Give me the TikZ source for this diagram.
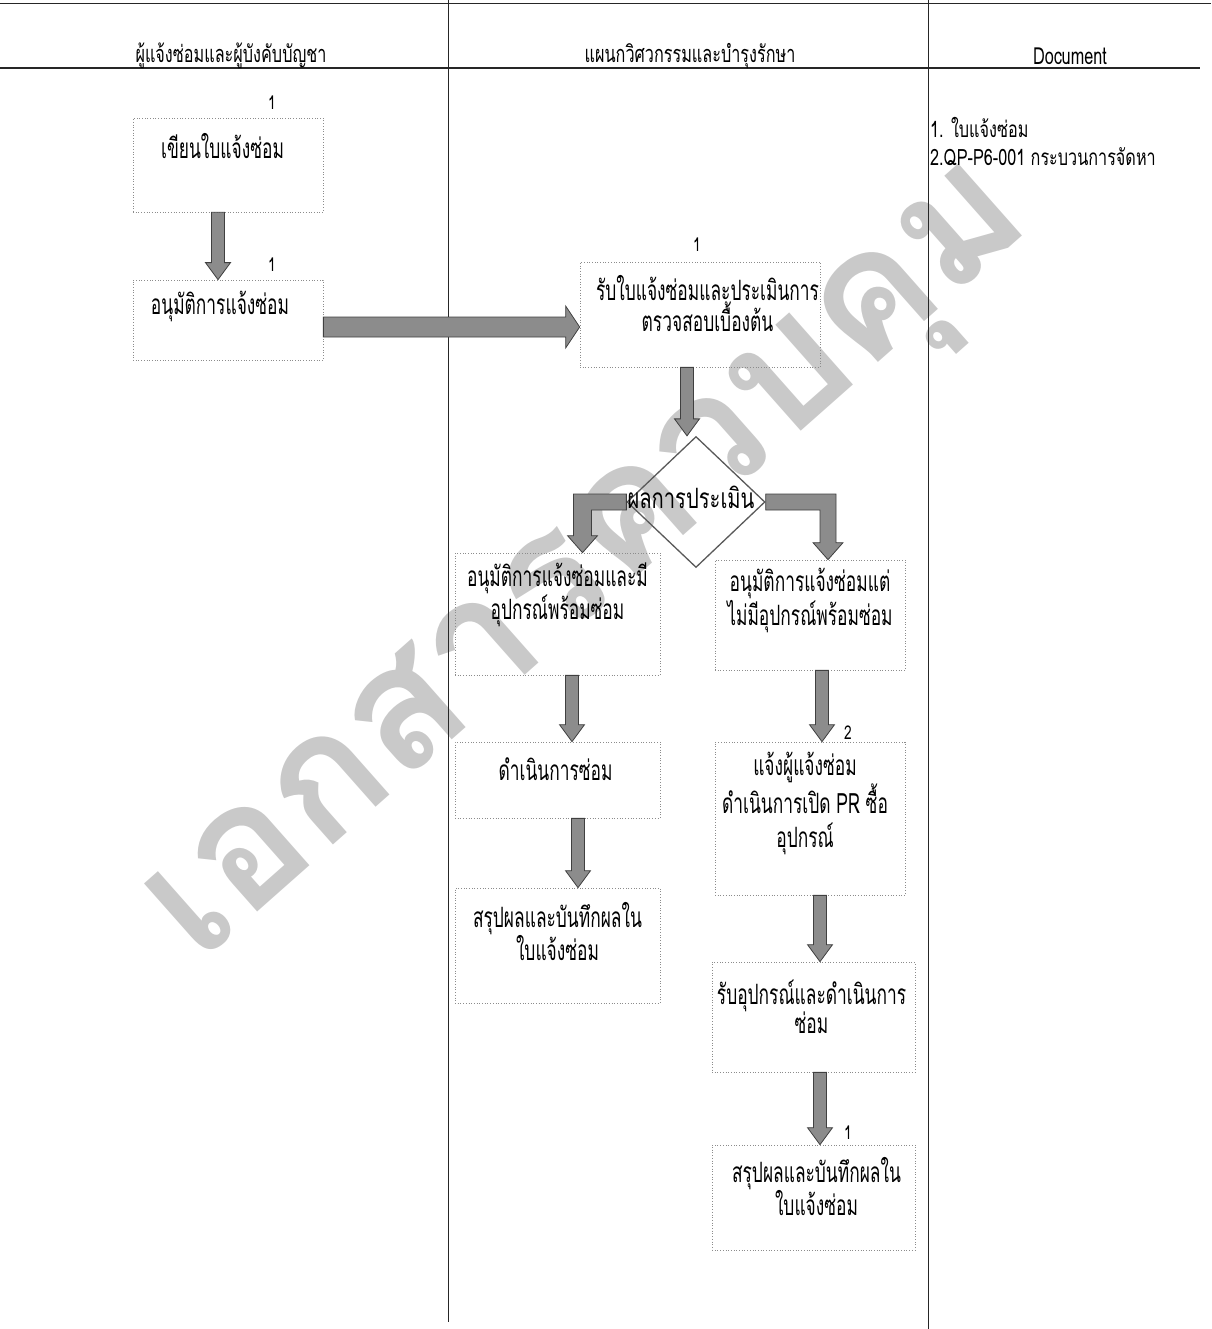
\documentclass[tikz,border=0pt]{standalone}
\usepackage{fontspec}
\setmainfont[Script=Thai, FakeStretch=0.62]{Loma}
\newfontfamily\headfont[Script=Thai, FakeStretch=0.69]{Loma}
\newfontfamily\docfont[Script=Thai, FakeStretch=0.72]{Loma}
\newfontfamily\wmfont[Script=Thai]{Loma}
\usetikzlibrary{calc,shapes.geometric}

\tikzset{
  lane/.style={draw=black!85, line width=0.9pt},
  stepbox/.style={draw=black!45, dotted, line width=0.7pt, inner sep=0pt},
  steptext/.style={anchor=center, align=center, inner sep=0pt,
    font=\fontsize{28}{29}\selectfont},
  blockarrow/.style={fill=black!45, draw=black!75, line width=0.8pt, line join=miter},
  num/.style={inner sep=0pt, font=\docfont\fontsize{19}{19}\selectfont},
  lanehead/.style={inner sep=0pt, font=\headfont\fontsize{23.5}{24}\selectfont},
  doctext/.style={anchor=west, inner sep=0pt, font=\docfont\fontsize{22.5}{23}\selectfont},
}

% vertical block arrow: #1 start point, #2 anchor giving the tip height
\newcommand\vblock[2]{%
  \coordinate (bs) at #1;
  \coordinate (be) at (bs |- #2);
  \path[blockarrow] ($(bs)+(-6.5,0)$) -- ($(be)+(-6.5,-17)$) -- ($(be)+(-12.5,-17)$)
    -- (be) -- ($(be)+(12.5,-17)$) -- ($(be)+(6.5,-17)$) -- ($(bs)+(6.5,0)$) -- cycle;}

\begin{document}
\begin{tikzpicture}[x=1pt,y=-1pt]
\useasboundingbox (0,0) rectangle (1211,1329);

% watermark
\node[rotate=41.5, text=black!21, inner sep=0pt,
  font=\wmfont\fontsize{173}{173}\selectfont\bfseries] (wm) at (598,573) {เอกสารควบคุม};

% swimlane frame
\draw[lane] (0,3) -- (1211,3);
\draw[draw=black!85, line width=1.8pt] (0,68) -- (1200,68);
\draw[lane] (448,0) -- (448,1322);
\draw[lane] (928,0) -- (928,1329);

\node[lanehead] (h1) at (231,56) {ผู้แจ้งซ่อมและผู้บังคับบัญชา};
\node[lanehead] (h2) at (690,56) {แผนกวิศวกรรมและบำรุงรักษา};
\node[lanehead] (h3) at (1070,56) {Document};

% documents
\node[doctext] (d1) at (930,127) {1. ใบแจ้งซ่อม};
\node[doctext] (d2) at (930,157) {2.QP-P6-001 กระบวนการจัดหา};

% process boxes
\node[stepbox, minimum width=190, minimum height=94]  (b1)  at (228,165) {};
\node[stepbox, minimum width=190, minimum height=80]  (b2)  at (228,320) {};
\node[stepbox, minimum width=240, minimum height=105] (b3)  at (700,314.5) {};
\node[stepbox, minimum width=205, minimum height=122] (b4)  at (557.5,614) {};
\node[stepbox, minimum width=190, minimum height=110] (b5)  at (810,615) {};
\node[stepbox, minimum width=205, minimum height=76]  (b6)  at (557.5,780) {};
\node[stepbox, minimum width=205, minimum height=115] (b7)  at (557.5,945.5) {};
\node[stepbox, minimum width=190, minimum height=153] (b8)  at (810,818.5) {};
\node[stepbox, minimum width=203, minimum height=110] (b9)  at (813.5,1017) {};
\node[stepbox, minimum width=203, minimum height=105] (b10) at (813.5,1197.5) {};

\node[steptext] (t1)  at ([xshift=-5.5pt,yshift=-28pt]b1.north)  {เขียนใบแจ้งซ่อม};
\node[steptext] (t2)  at ([xshift=-8pt,yshift=-27pt]b2.north)  {อนุมัติการแจ้งซ่อม};
\node[steptext] (t3)  at ([xshift=7.5pt,yshift=-42pt]b3.north)  {รับใบแจ้งซ่อมและประเมินการ\\ตรวจสอบเบื้องต้น};
\node[steptext] (t4)  at ([yshift=-42pt]b4.north)  {อนุมัติการแจ้งซ่อมและมี\\อุปกรณ์พร้อมซ่อม};
\node[steptext] (t5)  at ([yshift=-41pt]b5.north)  {อนุมัติการแจ้งซ่อมแต่\\ไม่มีอุปกรณ์พร้อมซ่อม};
\node[steptext] (t6)  at ([xshift=-2pt,yshift=-28pt]b6.north)  {ดำเนินการซ่อม};
\node[steptext] (t7)  at ([yshift=-44pt]b7.north)  {สรุปผลและบันทึกผลใน\\ใบแจ้งซ่อม};
\node[steptext, font=\fontsize{28}{34}\selectfont] (t8) at ([xshift=-5pt,yshift=-62pt]b8.north)
  {แจ้งผู้แจ้งซ่อม\\ดำเนินการเปิด PR ซื้อ\\อุปกรณ์};
\node[steptext] (t9)  at ([xshift=-2pt,yshift=-45pt]b9.north)  {รับอุปกรณ์และดำเนินการ\\ซ่อม};
\node[steptext] (t10) at ([xshift=3pt,yshift=-42pt]b10.north) {สรุปผลและบันทึกผลใน\\ใบแจ้งซ่อม};

% decision
\node[draw=black!65, line width=1.3pt, shape=diamond, minimum width=138, minimum height=131,
  inner sep=0pt] (dia) at (696,502) {};
\node[font=\docfont\fontsize{28}{28}\selectfont, inner sep=0pt] (dt) at (691,497) {ผลการประเมิน};

% step numbers
\node[num] (n1) at (272,103) {1};
\node[num] (n2) at (272,265) {1};
\node[num] (n3) at (697,245) {1};
\node[num] (n4) at (848,733) {2};
\node[num] (n5) at (848,1133) {1};

% flow arrows
\vblock{($(b1.south)+(-10,0)$)}{b2.north}
\vblock{($(b3.south)+(-13,0)$)}{dia.north}
\vblock{($(b4.south)+(14.5,0)$)}{b6.north}
\vblock{($(b6.south)+(20.5,0)$)}{b7.north}
\vblock{($(b5.south)+(12,0)$)}{b8.north}
\vblock{($(b8.south)+(10,0)$)}{b9.north}
\vblock{($(b9.south)+(6.5,0)$)}{b10.north}

% b2 -> b3
\coordinate (hs) at ($(b2.east)+(0,7)$);
\coordinate (he) at (hs -| b3.west);
\path[blockarrow] ($(hs)+(0,-10)$) -- ($(he)+(-14,-10)$) -- ($(he)+(-14,-21)$) -- (he)
  -- ($(he)+(-14,21)$) -- ($(he)+(-14,10)$) -- ($(hs)+(0,10)$) -- cycle;

% decision -> left branch
\coordinate (ls) at (dia.west);
\coordinate (lt) at ($(b4.north)+(25,0)$);
\coordinate (lc) at (ls -| lt);
\path[blockarrow] ($(ls)+(0,-8)$) -- ($(lc)+(-9,-8)$) -- ($(lt)+(-9,-17)$) -- ($(lt)+(-15,-17)$)
  -- (lt) -- ($(lt)+(15,-17)$) -- ($(lt)+(9,-17)$) -- ($(lc)+(9,8)$) -- ($(ls)+(0,8)$) -- cycle;

% decision -> right branch
\coordinate (rs) at (dia.east);
\coordinate (rt) at ($(b5.north)+(18,0)$);
\coordinate (rc) at (rs -| rt);
\path[blockarrow] ($(rs)+(0,-8)$) -- ($(rc)+(8,-8)$) -- ($(rt)+(8,-17)$) -- ($(rt)+(15,-17)$)
  -- (rt) -- ($(rt)+(-15,-17)$) -- ($(rt)+(-8,-17)$) -- ($(rc)+(-8,8)$) -- ($(rs)+(0,8)$) -- cycle;
\end{tikzpicture}
\end{document}
